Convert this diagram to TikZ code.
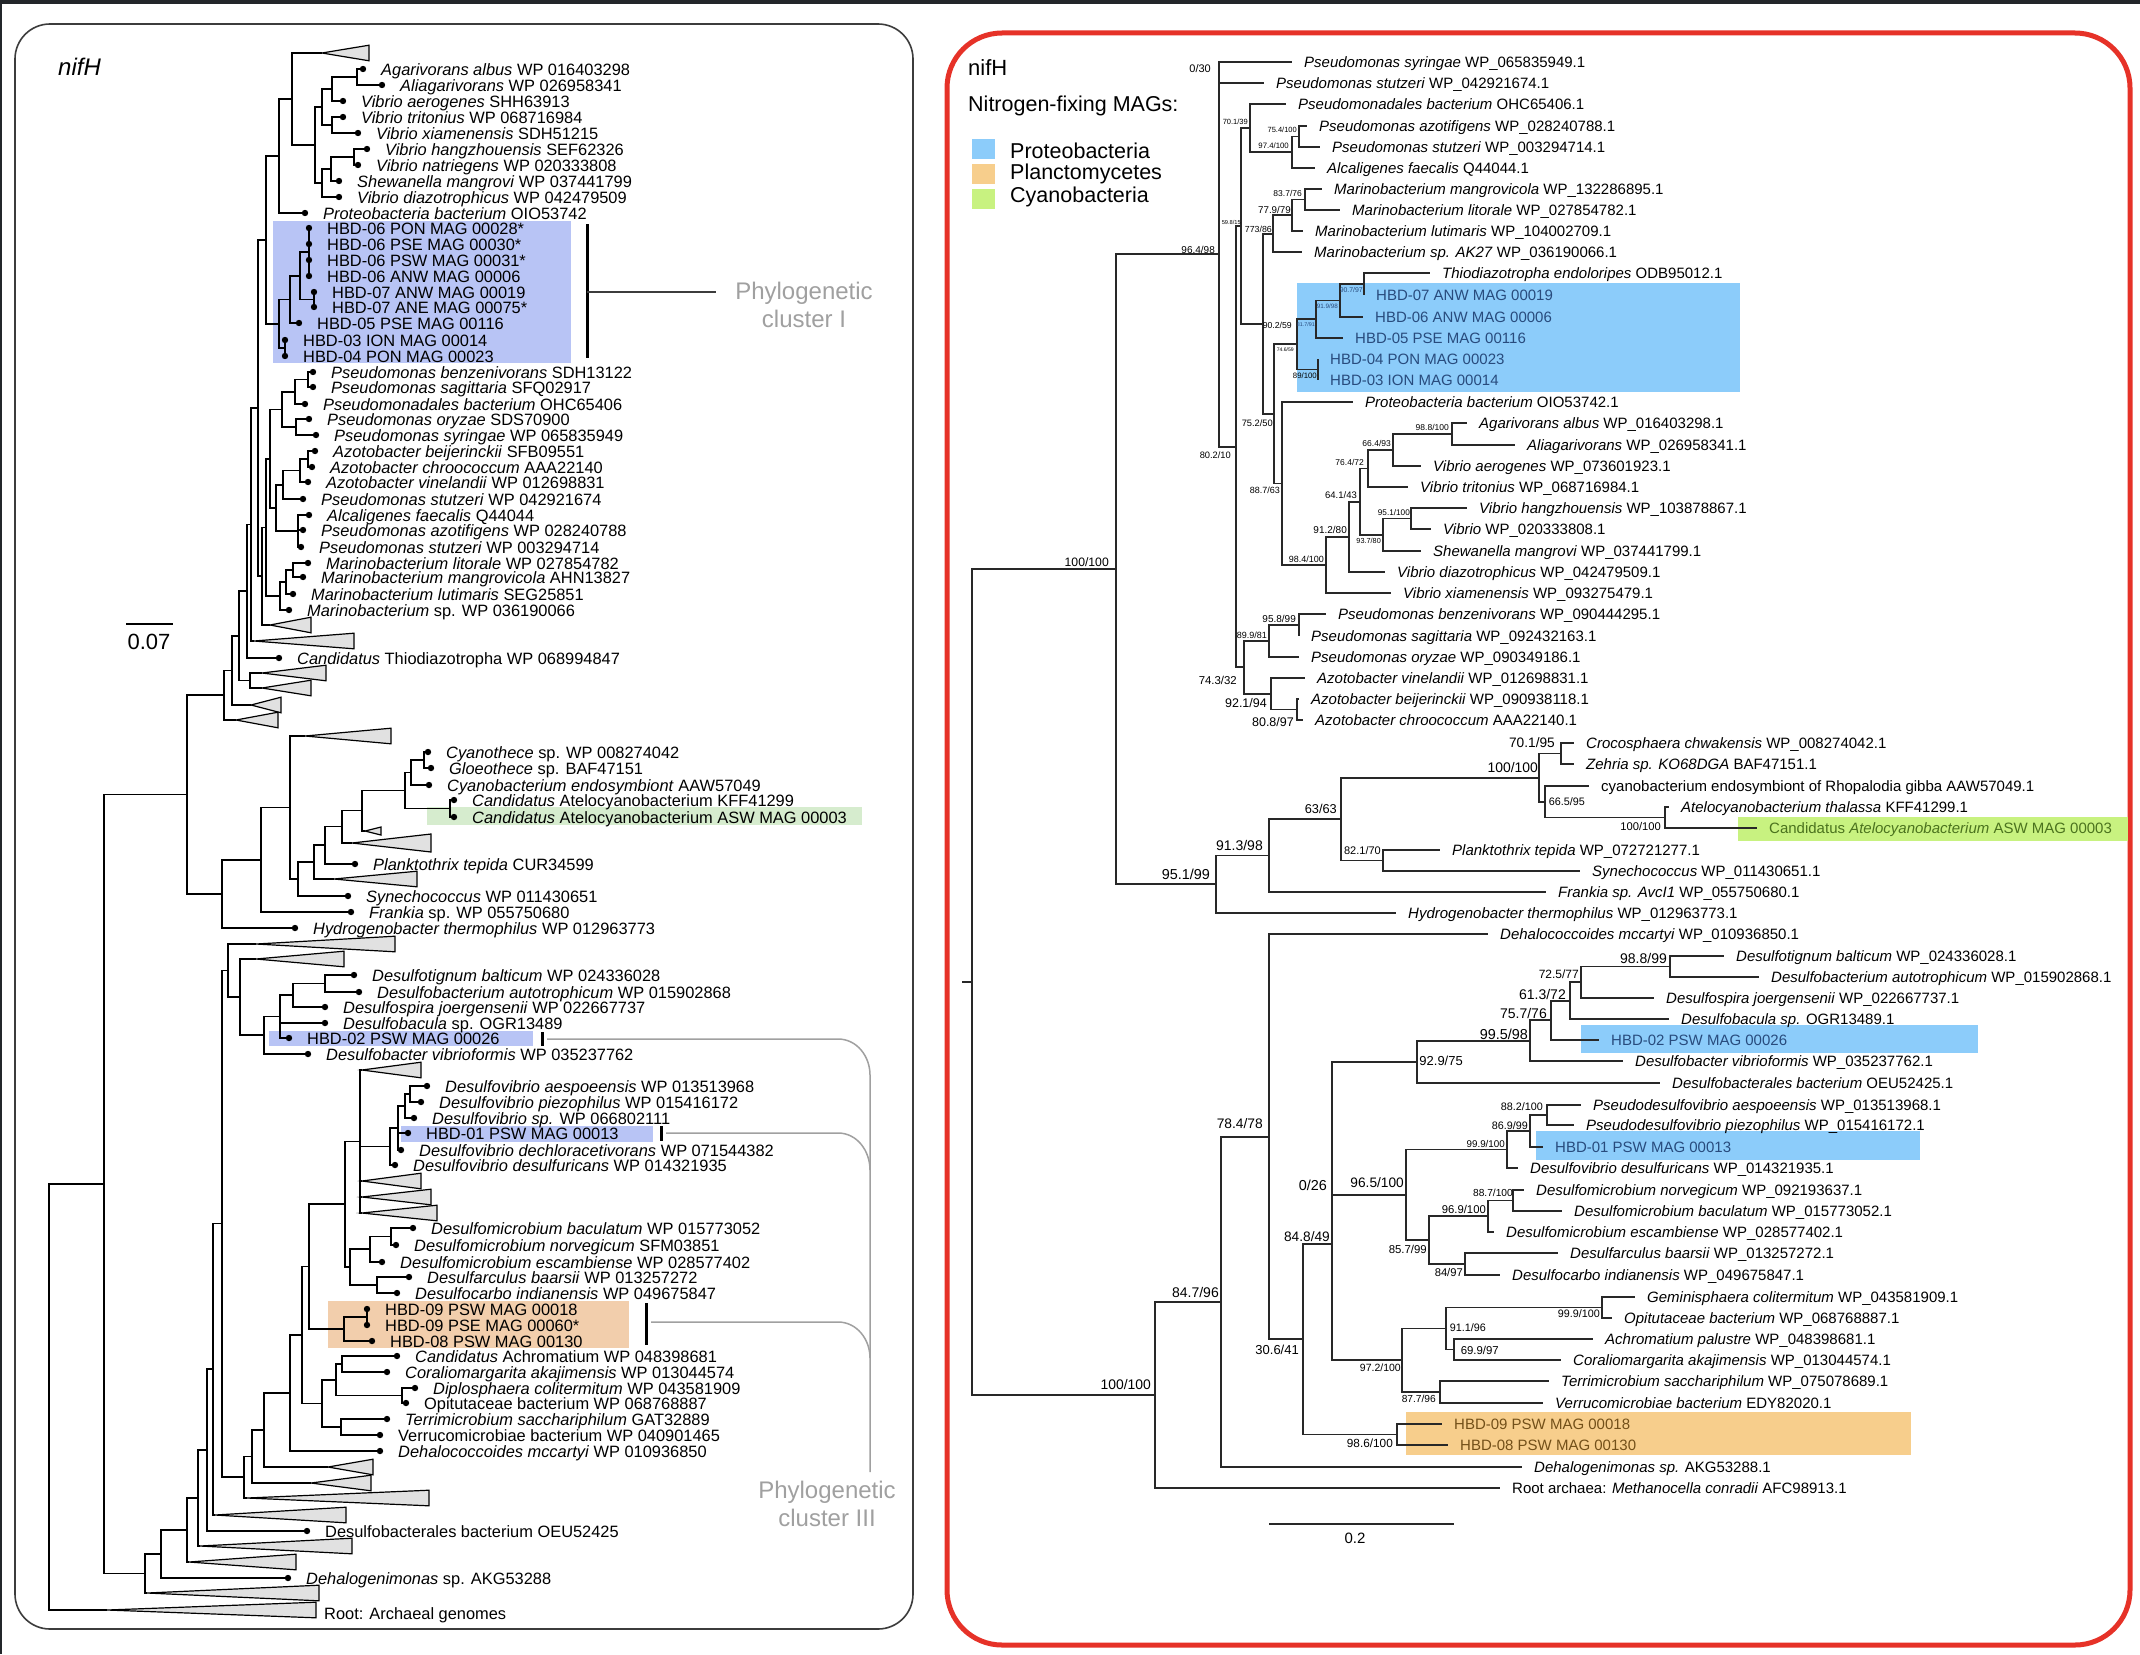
\documentclass[tikz,border=0pt]{standalone}
\usepackage{fontspec}
\setmainfont{Liberation Sans}
\definecolor{lblue}{RGB}{184,196,245}
\definecolor{lorange}{RGB}{242,206,172}
\definecolor{lgreen}{RGB}{214,236,206}
\definecolor{rblue}{RGB}{140,204,250}
\definecolor{rorange}{RGB}{247,206,140}
\definecolor{rgreen}{RGB}{200,242,128}
\definecolor{tblue}{RGB}{40,75,125}
\definecolor{torange}{RGB}{115,80,25}
\definecolor{tgreen}{RGB}{75,115,30}
\definecolor{redframe}{RGB}{230,50,40}
\definecolor{clgray}{RGB}{160,160,160}
\definecolor{trifill}{RGB}{225,225,225}
\definecolor{rline}{RGB}{40,40,40}
\definecolor{lframe}{RGB}{60,60,60}
\definecolor{darkband}{RGB}{35,38,42}
\tikzset{
  lbr/.style={line width=1.4pt, black},
  rbr/.style={line width=1.9pt, rline},
  tri/.style={draw=black, line width=1.2pt, fill=trifill},
  lt/.style={anchor=base west, inner sep=0pt, font=\fontsize{16.4}{18}\selectfont},
  rt/.style={anchor=base west, inner sep=0pt, font=\fontsize{15}{17}\selectfont},
  bs/.style={anchor=east, inner sep=0pt, font=\fontsize{#1}{#1}\selectfont},
  cbar/.style={line width=3pt, black},
  glink/.style={line width=1.5pt, clgray},
  ctext/.style={align=center, text=clgray, inner sep=0pt, font=\fontsize{24}{28}\selectfont},
}
\newcommand\lleaf[4]{\coordinate (#1) at (#2,#3); \fill (#1) circle (3.2pt); \node[lt] (#1t) at ([shift={(18,6)}]#1) {#4};}
\newcommand\ltri[5]{\coordinate (#1) at (#2,#3); \draw[tri] (#1) -- (#4,#3-#5) -- (#4,#3+#5) -- cycle;}
\newcommand\inode[3]{\coordinate (#1) at (#2,#3);}
\newcommand\ed[2]{\foreach \ch in {#2}{\draw[lbr] (#1) |- (\ch);}}
\newcommand\red[2]{\foreach \ch in {#2}{\draw[rbr] (#1) |- (\ch);}}
\newcommand\rleaf[5]{\coordinate (#1) at (#2,#3); \node[rt,#5] (#1t) at ([shift={(12,5.4)}]#1) {#4};}
\begin{document}
\begin{tikzpicture}[x=1pt,y=-1pt]
\useasboundingbox (0,0) rectangle (2140,1654);
\fill[white] (0,0) rectangle (2140,1654);
\fill[darkband] (0,0) rectangle (2140,4);
\fill[darkband] (0,0) rectangle (2,1654);
% frames
\draw[lframe, line width=1.6pt, rounded corners=35pt] (15,24) rectangle (913,1629);
\draw[redframe, line width=5pt, rounded corners=55pt] (947,33) rectangle (2130,1645);
% ---------------- LEFT highlights
\fill[lblue] (273,221) rectangle (571,363);
\fill[lgreen] (427,807) rectangle (862,825);
\fill[lblue] (269,1031) rectangle (533,1046);
\fill[lblue] (401,1126) rectangle (653,1142);
\fill[lorange] (328,1301) rectangle (629,1348);
% ---------------- LEFT texts
\node[anchor=west, inner sep=0pt, font=\fontsize{24}{24}\selectfont\itshape] (lnifh) at (58,67) {nifH};
\coordinate (sb1) at (126,624); \coordinate (sb2) at (173,624);
\draw[line width=1.6pt] (sb1) -- (sb2);
\node[inner sep=0pt, font=\fontsize{22}{22}\selectfont] (l007) at (149,642) {0.07};
% ---------------- LEFT leaves
\lleaf{Agar}{363}{69}{\textit{Agarivorans albus} WP 016403298}
\lleaf{Alia}{382}{85}{\textit{Aliagarivorans} WP 026958341}
\lleaf{Vaer}{343}{101}{\textit{Vibrio aerogenes} SHH63913}
\lleaf{Vtri}{343}{117}{\textit{Vibrio tritonius} WP 068716984}
\lleaf{Vxia}{358}{133}{\textit{Vibrio xiamenensis} SDH51215}
\lleaf{Vhan}{367}{149}{\textit{Vibrio hangzhouensis} SEF62326}
\lleaf{Vnat}{358}{165}{\textit{Vibrio natriegens} WP 020333808}
\lleaf{Shew}{339}{181}{\textit{Shewanella mangrovi} WP 037441799}
\lleaf{Vdia}{339}{197}{\textit{Vibrio diazotrophicus} WP 042479509}
\lleaf{Prot}{305}{213}{\textit{Proteobacteria bacterium} OIO53742}
\lleaf{H1}{309}{228}{HBD-06 PON MAG 00028*}
\lleaf{H2}{309}{244}{HBD-06 PSE MAG 00030*}
\lleaf{H3}{309}{260}{HBD-06 PSW MAG 00031*}
\lleaf{H4}{309}{276}{HBD-06 ANW MAG 00006}
\lleaf{H5}{314}{292}{HBD-07 ANW MAG 00019}
\lleaf{H6}{314}{307}{HBD-07 ANE MAG 00075*}
\lleaf{H7}{299}{323}{HBD-05 PSE MAG 00116}
\lleaf{H8}{285}{340}{HBD-03 ION MAG 00014}
\lleaf{H9}{285}{356}{HBD-04 PON MAG 00023}
\lleaf{Pben}{313}{372}{\textit{Pseudomonas benzenivorans} SDH13122}
\lleaf{Psag}{313}{387}{\textit{Pseudomonas sagittaria} SFQ02917}
\lleaf{Pdal}{305}{404}{\textit{Pseudomonadales bacterium} OHC65406}
\lleaf{Pory}{309}{419}{\textit{Pseudomonas oryzae} SDS70900}
\lleaf{Psyr}{316}{435}{\textit{Pseudomonas syringae} WP 065835949}
\lleaf{Abei}{315}{451}{\textit{Azotobacter beijerinckii} SFB09551}
\lleaf{Achr}{312}{467}{\textit{Azotobacter chroococcum} AAA22140}
\lleaf{Avin}{308}{482}{\textit{Azotobacter vinelandii} WP 012698831}
\lleaf{PstuA}{303}{499}{\textit{Pseudomonas stutzeri} WP 042921674}
\lleaf{Alca}{309}{515}{\textit{Alcaligenes faecalis} Q44044}
\lleaf{Pazo}{303}{530}{\textit{Pseudomonas azotifigens} WP 028240788}
\lleaf{PstuB}{301}{547}{\textit{Pseudomonas stutzeri} WP 003294714}
\lleaf{Mlit}{308}{563}{\textit{Marinobacterium litorale} WP 027854782}
\lleaf{Mman}{303}{577}{\textit{Marinobacterium mangrovicola} AHN13827}
\lleaf{Mlut}{293}{594}{\textit{Marinobacterium lutimaris} SEG25851}
\lleaf{Msp}{289}{610}{\textit{Marinobacterium} sp. WP 036190066}
\lleaf{Thio}{279}{658}{\textit{Candidatus} Thiodiazotropha WP 068994847}
\lleaf{Cyth}{428}{752}{\textit{Cyanothece} sp. WP 008274042}
\lleaf{Gloe}{431}{768}{\textit{Gloeothece} sp. BAF47151}
\lleaf{Cend}{429}{785}{\textit{Cyanobacterium endosymbiont} AAW57049}
\lleaf{CatA}{454}{800}{\textit{Candidatus} Atelocyanobacterium KFF41299}
\lleaf{CatB}{454}{817}{\textit{Candidatus} Atelocyanobacterium ASW MAG 00003}
\lleaf{Plan}{355}{864}{\textit{Planktothrix tepida} CUR34599}
\lleaf{Syne}{348}{896}{\textit{Synechococcus} WP 011430651}
\lleaf{Fran}{351}{912}{\textit{Frankia} sp. WP 055750680}
\lleaf{Hydr}{295}{928}{\textit{Hydrogenobacter thermophilus} WP 012963773}
\lleaf{Dbal}{354}{975}{\textit{Desulfotignum balticum} WP 024336028}
\lleaf{Daut}{359}{992}{\textit{Desulfobacterium autotrophicum} WP 015902868}
\lleaf{Djoe}{325}{1007}{\textit{Desulfospira joergensenii} WP 022667737}
\lleaf{Dbac}{325}{1023}{\textit{Desulfobacula} sp. OGR13489}
\lleaf{HBDb}{289}{1038}{HBD-02 PSW MAG 00026}
\lleaf{Dvib}{308}{1054}{\textit{Desulfobacter vibrioformis} WP 035237762}
\lleaf{Dasp}{427}{1086}{\textit{Desulfovibrio aespoeensis} WP 013513968}
\lleaf{Dpie}{421}{1102}{\textit{Desulfovibrio piezophilus} WP 015416172}
\lleaf{Dsp}{414}{1118}{\textit{Desulfovibrio sp.} WP 066802111}
\lleaf{HBDa}{408}{1133}{HBD-01 PSW MAG 00013}
\lleaf{Ddec}{401}{1150}{\textit{Desulfovibrio dechloracetivorans} WP 071544382}
\lleaf{Ddes}{395}{1165}{\textit{Desulfovibrio desulfuricans} WP 014321935}
\lleaf{Dmba}{413}{1228}{\textit{Desulfomicrobium baculatum} WP 015773052}
\lleaf{Dmno}{396}{1245}{\textit{Desulfomicrobium norvegicum} SFM03851}
\lleaf{Dmes}{382}{1262}{\textit{Desulfomicrobium escambiense} WP 028577402}
\lleaf{Dfba}{409}{1277}{\textit{Desulfarculus baarsii} WP 013257272}
\lleaf{Dfin}{397}{1293}{\textit{Desulfocarbo indianensis} WP 049675847}
\lleaf{HBDi}{367}{1309}{HBD-09 PSW MAG 00018}
\lleaf{HBDj}{367}{1325}{HBD-09 PSE MAG 00060*}
\lleaf{HBDh}{372}{1341}{HBD-08 PSW MAG 00130}
\lleaf{Cach}{397}{1356}{\textit{Candidatus} Achromatium WP 048398681}
\lleaf{Cora}{387}{1372}{\textit{Coraliomargarita akajimensis} WP 013044574}
\lleaf{Dipl}{415}{1388}{\textit{Diplosphaera colitermitum} WP 043581909}
\lleaf{Opit}{406}{1403}{Opitutaceae bacterium WP 068768887}
\lleaf{Terr}{387}{1419}{\textit{Terrimicrobium sacchariphilum} GAT32889}
\lleaf{Verr}{380}{1435}{Verrucomicrobiae bacterium WP 040901465}
\lleaf{Dehc}{380}{1451}{\textit{Dehalococcoides mccartyi} WP 010936850}
\lleaf{Dsbb}{307}{1531}{Desulfobacterales bacterium OEU52425}
\lleaf{Dhgn}{288}{1578}{\textit{Dehalogenimonas} sp. AKG53288}
\node[lt] (roott) at (324,1619) {Root: Archaeal genomes};
% ---------------- LEFT triangles
\ltri{lTa}{322}{53}{369}{7.8}
\ltri{lTb}{270}{625}{311}{7.8}
\ltri{lTc}{254}{641}{354}{7.8}
\ltri{lTd}{262}{673}{326}{7.8}
\ltri{lTe}{262}{688}{311}{7.8}
\ltri{lTf}{251}{705}{281}{7.8}
\ltri{lTg}{236}{720}{278}{7.8}
\ltri{lTh}{305}{736}{391}{7.8}
\ltri{lTs}{365}{831}{381}{4}
\ltri{lTi}{352}{843}{431}{9}
\ltri{lTj}{334}{879}{417}{7.8}
\ltri{lTk}{256}{944}{395}{7.8}
\ltri{lTl}{256}{959}{344}{7.8}
\ltri{lTm}{362}{1070}{421}{7.8}
\ltri{lTn}{362}{1181}{421}{7.8}
\ltri{lTo}{362}{1197}{431}{7.8}
\ltri{lTp}{362}{1213}{437}{7.8}
\ltri{lTq}{328}{1467}{373}{7.8}
\ltri{lTr}{311}{1483}{371}{7.8}
\ltri{lTt}{247}{1498}{429}{7.8}
\ltri{lTu}{215}{1515}{346}{7.8}
\ltri{lTv}{200}{1546}{352}{7.8}
\ltri{lTw}{189}{1562}{296}{7.8}
\ltri{lTx}{147}{1593}{319}{7.8}
\ltri{lTR}{107}{1610}{316}{7.8}
% ---------------- LEFT internal nodes
\inode{n1}{357}{77} \ed{n1}{Agar,Alia}
\inode{n2}{332}{89} \ed{n2}{n1,Vaer}
\inode{n3}{332}{125} \ed{n3}{Vtri,Vxia}
\inode{n4}{322}{107} \ed{n4}{n2,n3}
\inode{n5}{354}{157} \ed{n5}{Vhan,Vnat}
\inode{n6}{331}{169} \ed{n6}{n5,Shew}
\inode{n7}{322}{183} \ed{n7}{n6,Vdia}
\inode{n8}{315}{145} \ed{n8}{n4,n7}
\inode{n9}{292}{99} \ed{n9}{lTa,n8}
\inode{n10}{279}{156} \ed{n10}{n9,Prot}
\inode{c1}{309}{252} \ed{c1}{H1,H2,H3,H4}
\inode{c2}{314}{299.5} \ed{c2}{H5,H6}
\inode{c3}{300}{276} \ed{c3}{c1,c2}
\inode{c4}{290}{299.5} \ed{c4}{c3,H7}
\inode{c5}{285}{348} \ed{c5}{H8,H9}
\inode{c6}{279}{324} \ed{c6}{c4,c5}
\inode{d1}{266}{240} \ed{d1}{n10,c6}
\inode{p1}{308}{379.5} \ed{p1}{Pben,Psag}
\inode{p2}{295}{392} \ed{p2}{p1,Pdal}
\inode{p3}{296}{427} \ed{p3}{Pory,Psyr}
\inode{p4}{282}{409.5} \ed{p4}{p2,p3}
\inode{a1}{308}{459} \ed{a1}{Abei,Achr}
\inode{a2}{300}{470.5} \ed{a2}{a1,Avin}
\inode{a3}{283}{485} \ed{a3}{a2,PstuA}
\inode{a4}{298}{531} \ed{a4}{Alca,Pazo,PstuB}
\inode{a5}{276}{508} \ed{a5}{a3,a4}
\inode{e1}{270}{459} \ed{e1}{p4,a5}
\inode{m1}{293}{570} \ed{m1}{Mlit,Mman}
\inode{m2}{286}{582} \ed{m2}{m1,Mlut}
\inode{m3}{280}{596} \ed{m3}{m2,Msp}
\inode{e2}{266}{527.5} \ed{e2}{e1,m3}
\inode{e3}{262}{576} \ed{e3}{e2,lTb}
\inode{e4}{258}{408} \ed{e4}{d1,e3}
\inode{e5}{251}{524.5} \ed{e5}{e4,lTc}
\inode{e6}{247}{591} \ed{e6}{e5,Thio}
\inode{f1}{250}{680.5} \ed{f1}{lTd,lTe}
\inode{e7}{239}{636} \ed{e7}{e6,f1}
\inode{f2}{232}{670.5} \ed{f2}{e7,lTf}
\inode{e8}{224}{695} \ed{e8}{f2,lTg}
\inode{k1}{424}{760} \ed{k1}{Cyth,Gloe}
\inode{k2}{411}{772.5} \ed{k2}{k1,Cend}
\inode{k3}{450}{808.5} \ed{k3}{CatA,CatB}
\inode{k4}{405}{790.5} \ed{k4}{k2,k3}
\inode{k5}{362}{810.5} \ed{k5}{k4,lTs}
\inode{k6}{342}{826.5} \ed{k6}{k5,lTi}
\inode{k7}{325}{845} \ed{k7}{k6,Plan}
\inode{k8}{314}{862} \ed{k8}{k7,lTj}
\inode{k9}{298}{879} \ed{k9}{k8,Syne}
\inode{g3}{290}{807.5} \ed{g3}{lTh,k9}
\inode{g2}{261}{860} \ed{g2}{g3,Fran}
\inode{g1}{222}{894} \ed{g1}{g2,Hydr}
\inode{g0}{187}{794.5} \ed{g0}{e8,g1}
\inode{y1}{325}{983.5} \ed{y1}{Dbal,Daut}
\inode{y1b}{293}{995} \ed{y1b}{y1,Djoe}
\inode{y2}{280}{1016.5} \ed{y2}{y1b,Dbac,HBDb}
\inode{y3}{264}{1035} \ed{y3}{y2,Dvib}
\inode{y4}{240}{997} \ed{y4}{lTl,y3}
\inode{y5}{228}{970.5} \ed{y5}{lTk,y4}
\inode{v1}{410}{1094} \ed{v1}{Dasp,Dpie}
\inode{v2}{405}{1106} \ed{v2}{v1,Dsp}
\inode{v3}{398}{1128} \ed{v3}{v2,HBDa,Ddec}
\inode{v4}{390}{1146.5} \ed{v4}{v3,Ddes}
\inode{v5}{360}{1141.5} \ed{v5}{lTm,v4,lTn,lTo,lTp}
\inode{w1}{391}{1236.5} \ed{w1}{Dmba,Dmno}
\inode{w2}{370}{1249} \ed{w2}{w1,Dmes}
\inode{w3}{377}{1285} \ed{w3}{Dfba,Dfin}
\inode{w4}{350}{1267} \ed{w4}{w2,w3}
\inode{w5}{345}{1204} \ed{w5}{v5,w4}
\inode{o1}{367}{1317} \ed{o1}{HBDi,HBDj}
\inode{o2}{344}{1329} \ed{o2}{o1,HBDh}
\inode{x1}{309}{1266.5} \ed{x1}{w5,o2}
\inode{q1}{342}{1364} \ed{q1}{Cach,Cora}
\inode{q2}{402}{1395.5} \ed{q2}{Dipl,Opit}
\inode{q3}{336}{1380} \ed{q3}{q1,q2}
\inode{q4}{341}{1427} \ed{q4}{Terr,Verr}
\inode{q5}{322}{1403.5} \ed{q5}{q3,q4}
\inode{x2}{302}{1335} \ed{x2}{x1,q5}
\inode{x3}{290}{1393} \ed{x3}{x2,Dehc}
\inode{x4}{264}{1430} \ed{x4}{x3,lTq}
\inode{x5}{252}{1456.5} \ed{x5}{x4,lTr}
\inode{x6}{244}{1477} \ed{x6}{x5,lTt}
\inode{x7}{222}{1223.5} \ed{x7}{y5,x6}
\inode{x8}{213}{1369} \ed{x8}{x7,lTu}
\inode{x9}{207}{1450} \ed{x9}{x8,Dsbb}
\inode{h4}{198}{1498} \ed{h4}{x9,lTv}
\inode{h3}{187}{1530} \ed{h3}{h4,lTw}
\inode{h2}{161}{1554} \ed{h2}{h3,Dhgn}
\inode{h1}{145}{1573.5} \ed{h1}{h2,lTx}
\inode{r1}{104}{1184} \ed{r1}{g0,h1}
\inode{r0}{49}{1397} \ed{r0}{r1,lTR}
% ---------------- LEFT cluster marks
\coordinate (cb1) at (587,224); \coordinate (cb2) at (587,358); \coordinate (cbm) at (587,292); \coordinate (cbe) at (716,292);
\draw[cbar] (cb1) -- (cb2);
\draw[line width=1.4pt, lframe] (cbm) -- (cbe);
\node[ctext] (clI) at (804,305) {Phylogenetic\\cluster I};
\coordinate (bA1) at (542,1032); \coordinate (bA2) at (542,1046);
\coordinate (bB1) at (661,1126); \coordinate (bB2) at (661,1141);
\coordinate (bC1) at (646,1303); \coordinate (bC2) at (646,1345);
\draw[cbar] (bA1) -- (bA2); \draw[cbar] (bB1) -- (bB2); \draw[cbar] (bC1) -- (bC2);
\coordinate (gA) at (547,1039); \coordinate (gB) at (666,1133); \coordinate (gC) at (651,1322);
\coordinate (gV) at (870,1472);
\draw[glink] (gA) -- (838,1039) to[out=0,in=90] (870,1075) -- (gV);
\draw[glink] (gB) -- (838,1133) to[out=0,in=90] (870,1170);
\draw[glink] (gC) -- (838,1322) to[out=0,in=90] (870,1358);
\node[ctext] (clIII) at (827,1504) {Phylogenetic\\cluster III};
% ---------------- RIGHT highlights & legend
\fill[rblue] (1297,283) rectangle (1740,392);
\fill[rgreen] (1738,817) rectangle (2128,841);
\fill[rblue] (1581,1025) rectangle (1978,1053);
\fill[rblue] (1536,1131) rectangle (1920,1160);
\fill[rorange] (1406,1412) rectangle (1911,1455);
\node[anchor=west, inner sep=0pt, font=\fontsize{22}{22}\selectfont] (rnifh) at (968,68) {nifH};
\node[anchor=west, inner sep=0pt, font=\fontsize{21.5}{22}\selectfont] (rmags) at (968,106) {Nitrogen-fixing MAGs:};
\fill[rblue] (972,139) rectangle (995,159);
\fill[rorange] (972,164) rectangle (995,184);
\fill[rgreen] (972,189) rectangle (995,209);
\node[anchor=west, inner sep=0pt, font=\fontsize{21.5}{22}\selectfont] (lg1) at (1010,151) {Proteobacteria};
\node[anchor=west, inner sep=0pt, font=\fontsize{21.5}{22}\selectfont] (lg2) at (1010,174) {Planctomycetes};
\node[anchor=west, inner sep=0pt, font=\fontsize{21.5}{22}\selectfont] (lg3) at (1010,197) {Cyanobacteria};
\coordinate (rs1) at (1269,1524); \coordinate (rs2) at (1454,1524);
\draw[rbr] (rs1) -- (rs2);
\node[inner sep=0pt, font=\fontsize{15}{15}\selectfont] (r02) at (1355,1538) {0.2};
% ---------------- RIGHT leaves
\rleaf{Ra}{1292}{62}{\textit{Pseudomonas syringae} WP\_065835949.1}{}
\rleaf{Rb}{1264}{83}{\textit{Pseudomonas stutzeri} WP\_042921674.1}{}
\rleaf{Rc}{1286}{104}{\textit{Pseudomonadales bacterium} OHC65406.1}{}
\rleaf{Rd}{1307}{126}{\textit{Pseudomonas azotifigens} WP\_028240788.1}{}
\rleaf{Re}{1320}{147}{\textit{Pseudomonas stutzeri} WP\_003294714.1}{}
\rleaf{Rf}{1315}{168}{\textit{Alcaligenes faecalis} Q44044.1}{}
\rleaf{Rg}{1322}{189}{\textit{Marinobacterium mangrovicola} WP\_132286895.1}{}
\rleaf{Rh}{1340}{210}{\textit{Marinobacterium litorale} WP\_027854782.1}{}
\rleaf{Ri}{1303}{231}{\textit{Marinobacterium lutimaris} WP\_104002709.1}{}
\rleaf{Rj}{1302}{252}{\textit{Marinobacterium sp. AK27} WP\_036190066.1}{}
\rleaf{Rk}{1430}{273}{\textit{Thiodiazotropha endoloripes} ODB95012.1}{}
\rleaf{Rl}{1364}{295}{HBD-07 ANW MAG 00019}{text=tblue}
\rleaf{Rm}{1363}{317}{HBD-06 ANW MAG 00006}{text=tblue}
\rleaf{Rn}{1343}{338}{HBD-05 PSE MAG 00116}{text=tblue}
\rleaf{Ro}{1318}{359}{HBD-04 PON MAG 00023}{text=tblue}
\rleaf{Rp}{1318}{380}{HBD-03 ION MAG 00014}{text=tblue}
\rleaf{Rq}{1353}{402}{\textit{Proteobacteria bacterium} OIO53742.1}{}
\rleaf{Rr}{1467}{423}{\textit{Agarivorans albus} WP\_016403298.1}{}
\rleaf{Rs}{1515}{445}{\textit{Aliagarivorans} WP\_026958341.1}{}
\rleaf{Rt}{1421}{466}{\textit{Vibrio aerogenes} WP\_073601923.1}{}
\rleaf{Ru}{1408}{487}{\textit{Vibrio tritonius} WP\_068716984.1}{}
\rleaf{Rv}{1467}{508}{\textit{Vibrio hangzhouensis} WP\_103878867.1}{}
\rleaf{Rw}{1431}{529}{\textit{Vibrio} WP\_020333808.1}{}
\rleaf{Rx}{1421}{551}{\textit{Shewanella mangrovi} WP\_037441799.1}{}
\rleaf{Ry}{1385}{572}{\textit{Vibrio diazotrophicus} WP\_042479509.1}{}
\rleaf{Rz}{1391}{593}{\textit{Vibrio xiamenensis} WP\_093275479.1}{}
\rleaf{Sa}{1326}{614}{\textit{Pseudomonas benzenivorans} WP\_090444295.1}{}
\rleaf{Sb}{1299}{636}{\textit{Pseudomonas sagittaria} WP\_092432163.1}{}
\rleaf{Sc}{1299}{657}{\textit{Pseudomonas oryzae} WP\_090349186.1}{}
\rleaf{Sd}{1305}{678}{\textit{Azotobacter vinelandii} WP\_012698831.1}{}
\rleaf{Se}{1299}{699}{\textit{Azotobacter beijerinckii} WP\_090938118.1}{}
\rleaf{Sf}{1303}{720}{\textit{Azotobacter chroococcum} AAA22140.1}{}
\rleaf{Sg}{1574}{743}{\textit{Crocosphaera chwakensis} WP\_008274042.1}{}
\rleaf{Sh}{1574}{764}{\textit{Zehria sp. KO68DGA} BAF47151.1}{}
\rleaf{Si}{1589}{786}{cyanobacterium endosymbiont of Rhopalodia gibba AAW57049.1}{}
\rleaf{Sj}{1669}{807}{\textit{Atelocyanobacterium thalassa} KFF41299.1}{}
\rleaf{Sk}{1757}{828}{Candidatus \textit{Atelocyanobacterium} ASW MAG 00003}{text=tgreen}
\rleaf{Sl}{1440}{850}{\textit{Planktothrix tepida} WP\_072721277.1}{}
\rleaf{Sm}{1580}{871}{\textit{Synechococcus} WP\_011430651.1}{}
\rleaf{Sn}{1546}{892}{\textit{Frankia sp. AvcI1} WP\_055750680.1}{}
\rleaf{So}{1396}{913}{\textit{Hydrogenobacter thermophilus} WP\_012963773.1}{}
\rleaf{Sp}{1488}{934}{\textit{Dehalococcoides mccartyi} WP\_010936850.1}{}
\rleaf{Sq}{1724}{956}{\textit{Desulfotignum balticum} WP\_024336028.1}{}
\rleaf{Sr}{1759}{977}{\textit{Desulfobacterium autotrophicum} WP\_015902868.1}{}
\rleaf{Ss}{1654}{998}{\textit{Desulfospira joergensenii} WP\_022667737.1}{}
\rleaf{St}{1669}{1019}{\textit{Desulfobacula sp.} OGR13489.1}{}
\rleaf{Su}{1599}{1040}{HBD-02 PSW MAG 00026}{text=tblue}
\rleaf{Sv}{1623}{1061}{\textit{Desulfobacter vibrioformis} WP\_035237762.1}{}
\rleaf{Sw}{1660}{1083}{\textit{Desulfobacterales bacterium} OEU52425.1}{}
\rleaf{Sx}{1581}{1105}{\textit{Pseudodesulfovibrio aespoeensis} WP\_013513968.1}{}
\rleaf{Sy}{1574}{1125}{\textit{Pseudodesulfovibrio piezophilus} WP\_015416172.1}{}
\rleaf{Sz}{1543}{1147}{HBD-01 PSW MAG 00013}{text=tblue}
\rleaf{Ta}{1518}{1168}{\textit{Desulfovibrio desulfuricans} WP\_014321935.1}{}
\rleaf{Tb}{1524}{1190}{\textit{Desulfomicrobium norvegicum} WP\_092193637.1}{}
\rleaf{Tc}{1562}{1211}{\textit{Desulfomicrobium baculatum} WP\_015773052.1}{}
\rleaf{Td}{1494}{1232}{\textit{Desulfomicrobium escambiense} WP\_028577402.1}{}
\rleaf{Te}{1558}{1253}{\textit{Desulfarculus baarsii} WP\_013257272.1}{}
\rleaf{Tf}{1500}{1275}{\textit{Desulfocarbo indianensis} WP\_049675847.1}{}
\rleaf{Tg}{1635}{1297}{\textit{Geminisphaera colitermitum} WP\_043581909.1}{}
\rleaf{Th}{1612}{1318}{\textit{Opitutaceae bacterium} WP\_068768887.1}{}
\rleaf{Ti}{1593}{1339}{\textit{Achromatium palustre} WP\_048398681.1}{}
\rleaf{Tj}{1561}{1360}{\textit{Coraliomargarita akajimensis} WP\_013044574.1}{}
\rleaf{Tk}{1549}{1381}{\textit{Terrimicrobium sacchariphilum} WP\_075078689.1}{}
\rleaf{Tl}{1543}{1403}{\textit{Verrucomicrobiae bacterium} EDY82020.1}{}
\rleaf{Tm}{1442}{1424}{HBD-09 PSW MAG 00018}{text=torange}
\rleaf{Tn}{1448}{1445}{HBD-08 PSW MAG 00130}{text=torange}
\rleaf{To}{1522}{1467}{\textit{Dehalogenimonas sp.} AKG53288.1}{}
\rleaf{Tp}{1500}{1488}{Root archaea: \textit{Methanocella conradii} AFC98913.1}{}
% ---------------- RIGHT internal nodes
\inode{rPaz}{1299}{136.5} \red{rPaz}{Rd,Re}
\inode{rPal}{1292}{152.25} \red{rPal}{rPaz,Rf}
\inode{rPtop}{1250}{128.1} \red{rPtop}{Rc,rPal}
\inode{rM1}{1305}{199.5} \red{rM1}{Rg,Rh}
\inode{rM2}{1292}{215.25} \red{rM2}{rM1,Ri}
\inode{rM3}{1273}{233.6} \red{rM3}{rM2,Rj}
\inode{rT1}{1364}{284} \red{rT1}{Rk,Rl}
\inode{rT2}{1340}{300.5} \red{rT2}{rT1,Rm}
\inode{rT3}{1316}{319.25} \red{rT3}{rT2,Rn}
\inode{rT4}{1318}{369.5} \red{rT4}{Ro,Rp}
\inode{rT5}{1297}{344.4} \red{rT5}{rT3,rT4}
\inode{rV6}{1452}{434} \red{rV6}{Rr,Rs}
\inode{rV5}{1393}{450} \red{rV5}{rV6,Rt}
\inode{rV3}{1368}{468.5} \red{rV3}{rV5,Ru}
\inode{rV7}{1411}{518.5} \red{rV7}{Rv,Rw}
\inode{rV4}{1383}{534.75} \red{rV4}{rV7,Rx}
\inode{rV2}{1360}{501.6} \red{rV2}{rV3,rV4}
\inode{rV1}{1349}{536.8} \red{rV1}{rV2,Ry}
\inode{rVib}{1326}{564.9} \red{rVib}{rV1,Rz}
\inode{rZ}{1282}{483.5} \red{rZ}{Rq,rVib}
\inode{rY}{1274}{413.9} \red{rY}{rT5,rZ}
\inode{rX}{1263}{323.8} \red{rX}{rM3,rY}
\inode{rW}{1241}{226} \red{rW}{rPtop,rX}
\inode{rPB1}{1299}{625} \red{rPB1}{Sa,Sb}
\inode{rPB2}{1269}{641} \red{rPB2}{rPB1,Sc}
\inode{rAZ1}{1297}{709.5} \red{rAZ1}{Se,Sf}
\inode{rAZ2}{1271}{693.75} \red{rAZ2}{Sd,rAZ1}
\inode{rPA}{1244}{667.4} \red{rPA}{rPB2,rAZ2}
\inode{rV}{1236}{446.7} \red{rV}{rW,rPA}
\inode{rUA}{1219}{254.4} \red{rUA}{Ra,Rb,rV}
\inode{rC4}{1383}{860.5} \red{rC4}{Sl,Sm}
\inode{rC5}{1561}{753.5} \red{rC5}{Sg,Sh}
\inode{rC7}{1665}{817.5} \red{rC7}{Sj,Sk}
\inode{rC6}{1545}{801.75} \red{rC6}{Si,rC7}
\inode{rC3}{1539}{777.6} \red{rC3}{rC5,rC6}
\inode{rC2}{1341}{819} \red{rC2}{rC3,rC4}
\inode{rC1}{1269}{855.5} \red{rC1}{rC2,Sn}
\inode{rUB}{1216}{884.25} \red{rUB}{rC1,So}
\inode{rU}{1116}{569.3} \red{rU}{rUA,rUB}
\inode{rD6}{1670}{966.5} \red{rD6}{Sq,Sr}
\inode{rD5}{1581}{982.25} \red{rD5}{rD6,Ss}
\inode{rD4}{1570}{1000.6} \red{rD4}{rD5,St}
\inode{rD3}{1551}{1020.3} \red{rD3}{rD4,Su}
\inode{rD2}{1530}{1040.7} \red{rD2}{rD3,Sv}
\inode{rD1}{1417}{1061.8} \red{rD1}{rD2,Sw}
\inode{rE4}{1547}{1115} \red{rE4}{Sx,Sy}
\inode{rE3}{1530}{1131} \red{rE3}{rE4,Sz}
\inode{rE1}{1507}{1149.5} \red{rE1}{rE3,Ta}
\inode{rE7}{1513}{1200.5} \red{rE7}{Tb,Tc}
\inode{rE5}{1488}{1216.25} \red{rE5}{rE7,Td}
\inode{rE6}{1465}{1264} \red{rE6}{Te,Tf}
\inode{rE2}{1429}{1240.1} \red{rE2}{rE5,rE6}
\inode{rL5}{1406}{1194.8} \red{rL5}{rE1,rE2}
\inode{rL4b}{1332}{1128.3} \red{rL4b}{rD1,rL5}
\inode{rF3}{1602}{1307.5} \red{rF3}{Tg,Th}
\inode{rF4}{1454}{1349.5} \red{rF4}{Ti,Tj}
\inode{rF1}{1446}{1328.5} \red{rF1}{rF3,rF4}
\inode{rF2}{1440}{1392} \red{rF2}{Tk,Tl}
\inode{rL6}{1402}{1360.25} \red{rL6}{rF1,rF2}
\inode{rL4}{1332}{1244.3} \red{rL4}{rL4b,rL6}
\inode{rO1}{1397}{1434.5} \red{rO1}{Tm,Tn}
\inode{rL3}{1303}{1339.4} \red{rL3}{rL4,rO1}
\inode{rL2}{1269}{1136.7} \red{rL2}{Sp,rL3}
\inode{rL1}{1221}{1301.9} \red{rL1}{rL2,To}
\inode{rLB}{1155}{1394.9} \red{rLB}{rL1,Tp}
\inode{rRoot}{972}{982.1} \red{rRoot}{rU,rLB}
\coordinate (rstub) at (962,982.1); \draw[rbr] (rstub) -- (rRoot);
% ---------------- RIGHT support labels
\node[bs=11] (b01) at (1211,69) {0/30};
\node[bs=7.5] (b02) at (1248,122) {70.1/39};
\node[bs=7.5] (b03) at (1297,130) {75.4/100};
\node[bs=7.8] (b04) at (1289,146) {97.4/100};
\node[bs=8.5] (b05) at (1302,193) {83.7/76};
\node[bs=9.8] (b06) at (1291,210) {77.9/79};
\node[bs=5.7] (b07) at (1241,222) {59.8/15};
\node[bs=8.8] (b08) at (1272,229) {773/86};
\node[bs=10] (b09) at (1215,250) {96.4/98};
\node[bs=6.9,text=tblue] (b10) at (1363,290) {90.7/97};
\node[bs=6.3,text=tblue] (b11) at (1338,306) {91.9/98};
\node[bs=8.7] (b12) at (1292,325) {90.2/59};
\node[bs=5.4,text=tblue] (b13) at (1315,325) {81.7/91};
\node[bs=5.1] (b14) at (1294,350) {74.6/59};
\node[bs=7.8] (b15) at (1317,376) {89/100};
\node[bs=9.3] (b16) at (1273,423) {75.2/50};
\node[bs=8.5] (b17) at (1449,427) {98.8/100};
\node[bs=9.3] (b18) at (1231,455) {80.2/10};
\node[bs=8.5] (b19) at (1391,443) {66.4/93};
\node[bs=8.5] (b20) at (1364,462) {76.4/72};
\node[bs=9] (b21) at (1280,490) {88.7/63};
\node[bs=9.5] (b22) at (1357,495) {64.1/43};
\node[bs=8.2] (b23) at (1410,513) {95.1/100};
\node[bs=10] (b24) at (1347,530) {91.2/80};
\node[bs=7.3] (b25) at (1381,541) {93.7/80};
\node[bs=9] (b26) at (1324,559) {98.4/100};
\node[bs=10] (b27) at (1296,619) {95.8/99};
\node[bs=9] (b28) at (1267,635) {89.9/81};
\node[bs=11.4] (b29) at (1237,680) {74.3/32};
\node[bs=12.5] (b30) at (1267,703) {92.1/94};
\node[bs=12.5] (b31) at (1294,722) {80.8/97};
\node[bs=13.7] (b32) at (1555,743) {70.1/95};
\node[bs=13.9] (b33) at (1538,768) {100/100};
\node[bs=10.8] (b34) at (1585,802) {66.5/95};
\node[bs=12.8] (b35) at (1337,809) {63/63};
\node[bs=11.2] (b36) at (1661,826) {100/100};
\node[bs=14] (b37) at (1263,845) {91.3/98};
\node[bs=12.2] (b38) at (1109,562) {100/100};
\node[bs=11] (b39) at (1381,851) {82.1/70};
\node[bs=14.4] (b40) at (1210,874) {95.1/99};
\node[bs=14] (b41) at (1667,958) {98.8/99};
\node[bs=12] (b42) at (1579,974) {72.5/77};
\node[bs=14] (b43) at (1566,994) {61.3/72};
\node[bs=14] (b44) at (1547,1013) {75.7/76};
\node[bs=14.4] (b45) at (1528,1034) {99.5/98};
\node[bs=13] (b46) at (1463,1061) {92.9/75};
\node[bs=10.8] (b47) at (1543,1107) {88.2/100};
\node[bs=10.8] (b48) at (1528,1126) {86.9/99};
\node[bs=9.8] (b49) at (1505,1144) {99.9/100};
\node[bs=13.8] (b50) at (1263,1124) {78.4/78};
\node[bs=14.4] (b51) at (1327,1185) {0/26};
\node[bs=13.7] (b52) at (1404,1183) {96.5/100};
\node[bs=10.2] (b53) at (1513,1193) {88.7/100};
\node[bs=11.3] (b54) at (1486,1209) {96.9/100};
\node[bs=13.7] (b55) at (1330,1237) {84.8/49};
\node[bs=11.4] (b56) at (1427,1249) {85.7/99};
\node[bs=11.2] (b57) at (1463,1272) {84/97};
\node[bs=14] (b58) at (1219,1292) {84.7/96};
\node[bs=10.8] (b59) at (1600,1314) {99.9/100};
\node[bs=10.8] (b60) at (1486,1328) {91.1/96};
\node[bs=11.4] (b61) at (1499,1350) {69.9/97};
\node[bs=13] (b62) at (1299,1350) {30.6/41};
\node[bs=10.5] (b63) at (1401,1368) {97.2/100};
\node[bs=13.9] (b64) at (1151,1385) {100/100};
\node[bs=10.2] (b65) at (1436,1399) {87.7/96};
\node[bs=11.8] (b66) at (1393,1443) {98.6/100};
\end{tikzpicture}
\end{document}
